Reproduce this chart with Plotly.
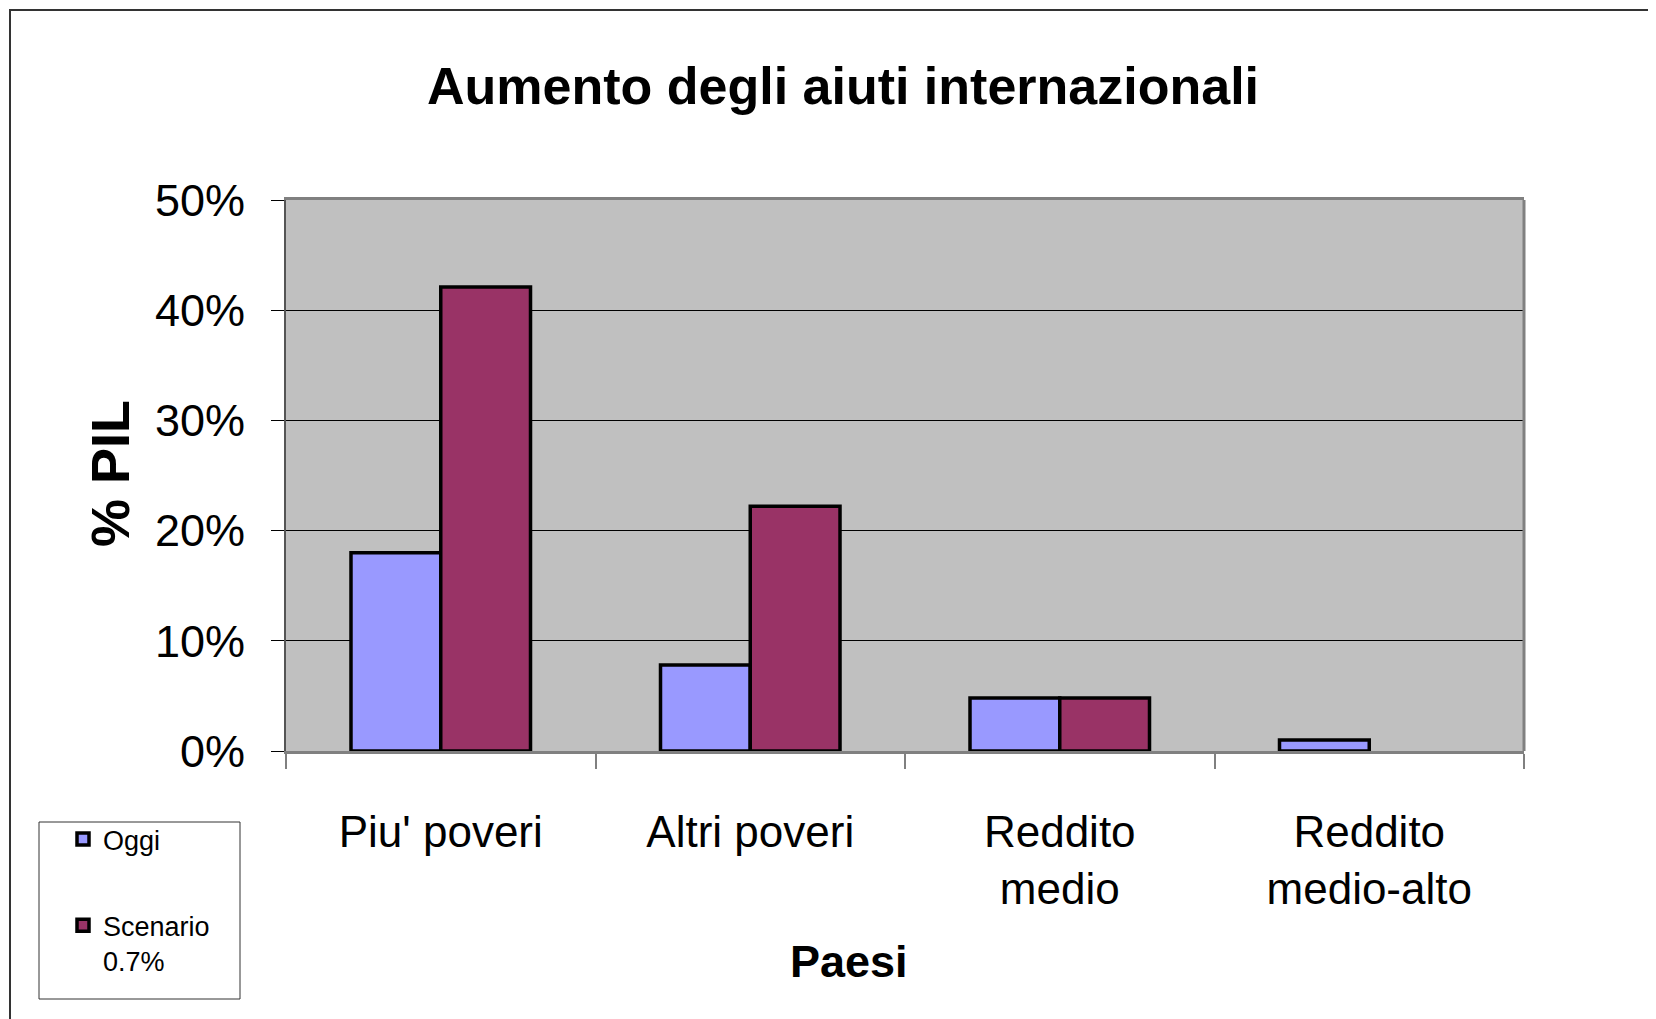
import plotly.graph_objects as go

categories = ["Piu' poveri", "Altri poveri", "Reddito<br>medio", "Reddito<br>medio-alto"]
oggi = [18.0, 7.8, 4.8, 1.0]
scenario = [42.1, 22.2, 4.8, None]
y_ticks = [0, 10, 20, 30, 40, 50]
y_tick_labels = ["0%", "10%", "20%", "30%", "40%", "50%"]

OFF = 8  # page body offset
W, H = 1656, 1019
L, R, T, B = 286 - OFF, 1524 - OFF, 200 - OFF, 751 - OFF
pw, ph = R - L, B - T

def px(x):
    return (x - OFF - L) / pw

def py(y):
    return (B - (y - OFF)) / ph

fig = go.Figure()
fig.add_trace(go.Bar(
    x=categories, y=oggi, name="Oggi", legendgroup="a",
    marker=dict(color="#9999FF", line=dict(color="black", width=3.5)),
))
fig.add_trace(go.Bar(
    x=categories, y=scenario, name="Scenario<br>0.7%", legendgroup="b",
    marker=dict(color="#993366", line=dict(color="black", width=3.5)),
))

fig.update_layout(
    width=W, height=H,
    margin=dict(l=L, r=W - R, t=T, b=H - B, pad=0),
    paper_bgcolor="white",
    plot_bgcolor="#C0C0C0",
    barmode="group", bargap=0.42, bargroupgap=0,
    font=dict(family="Liberation Sans, Arial, sans-serif", color="black"),
    showlegend=True,
    legend=dict(
        x=px(63), y=py(815), xanchor="left", yanchor="top",
        font=dict(size=27), valign="top", tracegroupgap=48,
        bgcolor="rgba(0,0,0,0)", borderwidth=0,
    ),
    title=dict(
        text="<b>Aumento degli aiuti internazionali</b>",
        x=(843 - OFF) / W, xref="container", xanchor="center",
        y=1 - (86 - OFF) / H, yref="container", yanchor="middle",
        font=dict(family="Liberation Sans, Arial, sans-serif", size=52),
    ),
    xaxis=dict(
        type="category", tickson="boundaries", ticks="outside", ticklen=15,
        tickcolor="#808080", tickwidth=2,
        showline=True, linecolor="#808080", linewidth=3, mirror=True,
        showgrid=False, tickfont=dict(size=44), ticklabelstandoff=40,
    ),
    yaxis=dict(
        range=[0, 50], tickvals=y_ticks, ticktext=y_tick_labels,
        ticks="outside", ticklen=13, tickcolor="black", tickwidth=1,
        showline=True, linecolor="#555555", linewidth=2,
        showgrid=True, gridcolor="black", gridwidth=1,
        tickfont=dict(size=45), ticklabelstandoff=17, zeroline=False,
    ),
)

# right plot border (gray)
fig.add_shape(type="line", xref="paper", yref="paper", x0=1, x1=1, y0=0, y1=1,
              line=dict(color="#808080", width=3))
# outer chart border
fig.add_shape(type="rect", xref="paper", yref="paper",
              x0=px(10), x1=px(1720), y0=py(1080), y1=py(10),
              line=dict(color="#333333", width=2), fillcolor="rgba(0,0,0,0)", layer="below")
# legend box
fig.add_shape(type="rect", xref="paper", yref="paper",
              x0=px(39), x1=px(240), y0=py(999), y1=py(822),
              line=dict(color="#333333", width=1), fillcolor="rgba(0,0,0,0)")

# axis titles
fig.add_annotation(text="<b>% PIL</b>", xref="paper", yref="paper",
                   x=px(110), y=py(473), textangle=-90, showarrow=False,
                   font=dict(size=54), xanchor="center", yanchor="middle")
fig.add_annotation(text="<b>Paesi</b>", xref="paper", yref="paper",
                   x=px(849), y=py(962), showarrow=False,
                   font=dict(size=45), xanchor="center", yanchor="middle")

fig.write_html("out.html")
